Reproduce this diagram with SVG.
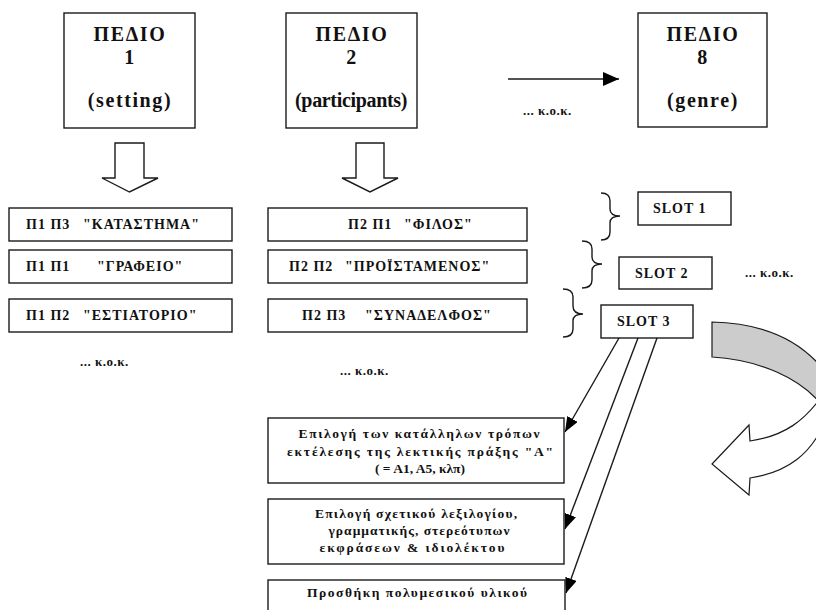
<svg xmlns="http://www.w3.org/2000/svg" width="816" height="610" viewBox="0 0 816 610">
<defs>
<style>
.b{fill:#fff;stroke:#1a1a1a;stroke-width:1.4}
.t{font-family:"Liberation Serif","Times New Roman",serif;font-weight:bold;fill:#111}
.big{font-size:20px;letter-spacing:1.6px;text-anchor:middle}
.row{font-size:14px;letter-spacing:1px}
.slot{font-size:14px;letter-spacing:1px}
.kok{font-size:13px;letter-spacing:0.5px}
.inf{font-size:13.5px;text-anchor:middle}
.ln{fill:none;stroke:#1a1a1a;stroke-width:1.4}
</style>
<marker id="ah" markerUnits="userSpaceOnUse" markerWidth="16" markerHeight="14" refX="16" refY="7" orient="auto"><path d="M0,0 L16,7 L0,14 Z" fill="#000"/></marker>
<marker id="as" markerUnits="userSpaceOnUse" markerWidth="15" markerHeight="12" refX="15" refY="6" orient="auto"><path d="M0,0 L15,6 L0,12 Z" fill="#000"/></marker>
</defs>
<rect width="816" height="610" fill="#fff"/>

<g id="pedio1">
<rect class="b" x="64" y="13" width="131" height="115"/>
<text class="t big" x="130" y="41">ΠΕΔΙΟ</text>
<text class="t big" x="130" y="64">1</text>
<text class="t big" x="130" y="107">(setting)</text>
</g>
<g id="pedio2">
<rect class="b" x="286" y="13" width="131" height="115"/>
<text class="t big" x="352" y="41">ΠΕΔΙΟ</text>
<text class="t big" x="352" y="64">2</text>
<text class="t big" x="352" y="107" textLength="114" lengthAdjust="spacing">(participants)</text>
</g>
<g id="pedio8">
<rect class="b" x="638" y="13" width="129" height="114"/>
<text class="t big" x="703" y="41">ΠΕΔΙΟ</text>
<text class="t big" x="703" y="64">8</text>
<text class="t big" x="703" y="107">(genre)</text>
</g>
<text class="t kok" x="523" y="115">... κ.ο.κ.</text>

<g id="blockarrows">
<path class="b" d="M115,143 L144,143 L144,178 L158,178 L129.5,192 L102,178 L115,178 Z"/>
<path class="b" d="M356,143 L384,143 L384,178 L398,178 L370,192 L342,178 L356,178 Z"/>
</g>

<g id="p1p3"><rect class="b" x="9" y="208" width="223" height="33"/><text class="t row" x="26" y="229">Π1 Π3</text><text class="t row" x="83" y="229">"ΚΑΤΑΣΤΗΜΑ"</text></g>
<g id="p1p1"><rect class="b" x="9" y="250" width="223" height="33"/><text class="t row" x="26" y="271">Π1 Π1</text><text class="t row" x="97" y="271">"ΓΡΑΦΕΙΟ"</text></g>
<g id="p1p2"><rect class="b" x="9" y="299" width="223" height="33"/><text class="t row" x="26" y="320">Π1 Π2</text><text class="t row" x="83" y="320">"ΕΣΤΙΑΤΟΡΙΟ"</text></g>
<text class="t kok" x="80" y="366">... κ.ο.κ.</text>

<g id="p2p1"><rect class="b" x="268" y="208" width="259" height="33"/><text class="t row" x="348" y="229">Π2 Π1</text><text class="t row" x="404" y="229">"ΦΙΛΟΣ"</text></g>
<g id="p2p2"><rect class="b" x="268" y="250" width="259" height="33"/><text class="t row" x="289" y="271">Π2 Π2</text><text class="t row" x="345" y="271">"ΠΡΟΪΣΤΑΜΕΝΟΣ"</text></g>
<g id="p2p3"><rect class="b" x="268" y="299" width="259" height="33"/><text class="t row" x="302" y="320">Π2 Π3</text><text class="t row" x="365" y="320">"ΣΥΝΑΔΕΛΦΟΣ"</text></g>
<text class="t kok" x="340" y="375">... κ.ο.κ.</text>

<g id="braces">
<path class="ln" d="M601,193 Q610,193 610,201 L610,209 Q610,216 620,216 Q610,216 610,223 L610,232 Q610,240 601,240"/>
<path class="ln" d="M582,241 Q592,241 592,249 L592,257 Q592,264 602,264 Q592,264 592,271 L592,280 Q592,288 582,288"/>
<path class="ln" d="M563,289 Q573,289 573,297 L573,306 Q573,314 583,314 Q573,314 573,321 L573,329 Q573,337 563,337"/>
</g>

<g id="slot1"><rect class="b" x="638" y="192" width="93" height="33"/><text class="t slot" x="653" y="213">SLOT  1</text></g>
<g id="slot2"><rect class="b" x="619" y="257" width="93" height="32"/><text class="t slot" x="635" y="278">SLOT  2</text></g>
<g id="slot3"><rect class="b" x="601" y="305" width="92" height="33"/><text class="t slot" x="617" y="326">SLOT  3</text></g>
<text class="t kok" x="745" y="277">... κ.ο.κ.</text>

<g id="curvedarrow">
<path d="M712,322 C755,323 795,335 822,368 L822,405 C800,378 760,360 712,357 Z" fill="#cccccc" stroke="#1a1a1a" stroke-width="1.2"/>
<path d="M822,396 C805,420 785,436 750,441 L749,425 L712,464 L749,495 L750,478 C790,472 810,452 822,428 Z" fill="#fff" stroke="#1a1a1a" stroke-width="1.2"/>
</g>

<g id="boxA"><rect class="b" x="268" y="418" width="296" height="65"/>
<text class="t inf" x="419" y="438" textLength="241" lengthAdjust="spacing">Επιλογή των κατάλληλων τρόπων</text>
<text class="t inf" x="420" y="456" textLength="266" lengthAdjust="spacing">εκτέλεσης της λεκτικής πράξης "Α"</text>
<text class="t inf" x="420" y="473" textLength="90" lengthAdjust="spacing">( = Α1, Α5, κλπ)</text>
</g>
<g id="boxB"><rect class="b" x="268" y="499" width="296" height="65"/>
<text class="t inf" x="416" y="518" textLength="202" lengthAdjust="spacing">Επιλογή σχετικού λεξιλογίου,</text>
<text class="t inf" x="419" y="535" textLength="181" lengthAdjust="spacing">γραμματικής, στερεότυπων</text>
<text class="t inf" x="412" y="552" textLength="185" lengthAdjust="spacing">εκφράσεων  &amp; ιδιολέκτου</text>
</g>
<g id="boxC"><rect class="b" x="268" y="580" width="297" height="40"/>
<text class="t inf" x="417" y="597" textLength="220" lengthAdjust="spacing">Προσθήκη πολυμεσικού υλικού</text>
</g>

<g id="connectors">
<line class="ln" x1="508" y1="79" x2="619" y2="79" marker-end="url(#ah)"/>
<line class="ln" x1="619" y1="338" x2="565" y2="432" marker-end="url(#as)"/>
<line class="ln" x1="638" y1="338" x2="565" y2="529" marker-end="url(#as)"/>
<line class="ln" x1="657" y1="338" x2="566" y2="593" marker-end="url(#as)"/>
</g>
</svg>
